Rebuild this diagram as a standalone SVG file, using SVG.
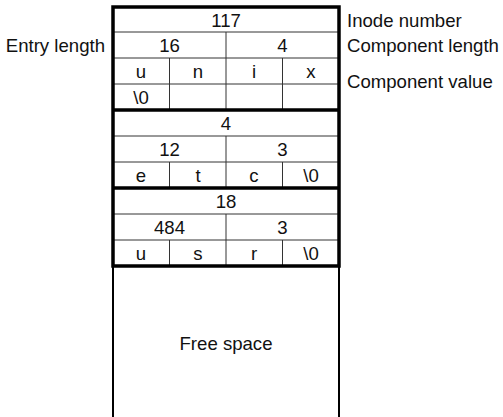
<svg xmlns="http://www.w3.org/2000/svg" width="503" height="417" viewBox="0 0 503 417">
<style>
text{font-family:"Liberation Sans",Arial,Helvetica,sans-serif;font-size:18.6px;fill:#111}
.c{text-anchor:middle}
.thin{stroke:#333;stroke-width:1;fill:none}
.thick{stroke:#000;stroke-width:3.5;fill:none}
.free{stroke:#000;stroke-width:2;fill:none}
</style>
<rect width="503" height="417" fill="#fff"/>
<g id="entry1">
<path class="thin" d="M113 32H339M113 58H339M113 84H339M226 32V110M169.5 58V110M282.5 58V110"/>
<text class="c" x="226" y="26.5">117</text>
<text class="c" x="169.5" y="52">16</text>
<text class="c" x="282.5" y="52">4</text>
<text class="c" x="141" y="78">u</text>
<text class="c" x="198" y="78">n</text>
<text class="c" x="254" y="78">i</text>
<text class="c" x="311" y="78">x</text>
<text class="c" x="141" y="104">\0</text>
</g>
<g id="entry2">
<path class="thin" d="M113 136H339M113 162H339M226 136V188M169.5 162V188M282.5 162V188"/>
<text class="c" x="226" y="130">4</text>
<text class="c" x="169.5" y="156">12</text>
<text class="c" x="282.5" y="156">3</text>
<text class="c" x="141" y="182">e</text>
<text class="c" x="198" y="182">t</text>
<text class="c" x="254" y="182">c</text>
<text class="c" x="311" y="182">\0</text>
</g>
<g id="entry3">
<path class="thin" d="M113 214H339M113 240H339M226 214V266M169.5 240V266M282.5 240V266"/>
<text class="c" x="226" y="208">18</text>
<text class="c" x="169.5" y="234">484</text>
<text class="c" x="282.5" y="234">3</text>
<text class="c" x="141" y="260">u</text>
<text class="c" x="198" y="260">s</text>
<text class="c" x="254" y="260">r</text>
<text class="c" x="311" y="260">\0</text>
</g>
<g id="frame">
<rect class="thick" x="113" y="7" width="226" height="259"/>
<path class="thick" d="M113 110H339M113 188H339"/>
</g>
<g id="freespace">
<path class="free" d="M113 266V417M339 266V417"/>
<text class="c" x="226" y="350">Free space</text>
</g>
<g id="labels">
<text x="347" y="26.5">Inode number</text>
<text x="347" y="52">Component length</text>
<text x="347" y="88">Component value</text>
<text x="105" y="52" text-anchor="end">Entry length</text>
</g>
</svg>
